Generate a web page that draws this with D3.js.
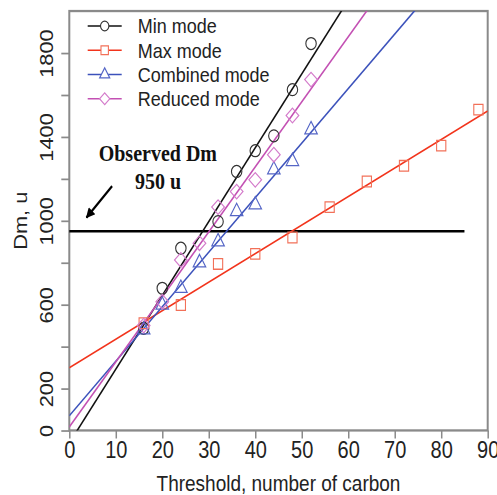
<!DOCTYPE html>
<html>
  <head>
    <meta charset="utf-8">
    <title>Dm vs threshold</title>
    <script src="https://d3js.org/d3.v7.min.js"></script>
    <style>
      body { margin: 0; background: #fff; }
      text { font-family: "Liberation Sans", Arial, sans-serif; fill: #222; }
      .serif { font-family: "Liberation Serif", "Times New Roman", serif; fill: #111; }
    </style>
  </head>
  <body>
    <svg id="chart"></svg>
    <script>
// the original figure is stretched a little vertically, so draw in a
// shorter viewBox and let the svg stretch it
var width = 497,
    height = 495,
    stretch = 1.15,
    vbHeight = height / stretch;

// data
var thresholdsA = [16, 20, 24, 32, 36, 40, 44, 48, 52];
var minMode = [487, 678, 869, 996, 1235, 1334, 1405, 1625, 1845];

var thresholdsMax = [16, 24, 32, 40, 48, 56, 64, 72, 80, 88];
var maxMode = [511, 598, 794, 842, 920, 1065, 1187, 1262, 1358, 1530];

var thresholdsB = [16, 20, 24, 28, 32, 36, 40, 44, 48, 52];
var combinedMode = [480, 598, 678, 800, 900, 1044, 1076, 1243, 1283, 1434];
var reducedMode = [500, 614, 813, 893, 1065, 1139, 1195, 1315, 1502, 1673];

// fitted lines [intercept, slope] as drawn
var minFit = [-60, 35.2];
var maxFit = [299, 13.6];
var combinedFit = [70, 26.0];
var reducedFit = [17, 31.0];

var xTicks = [0, 10, 20, 30, 40, 50, 60, 70, 80, 90];
var yTicks = [0, 200, 400, 600, 800, 1000, 1200, 1400, 1600, 1800];
var yTickLabels = [0, 200, 600, 1000, 1400, 1800];

var observedDm = 950;

var series = [
  {name: "Min mode", x: thresholdsA, y: minMode, fit: minFit, line: "#111", mark: "#333", shape: "circle"},
  {name: "Max mode", x: thresholdsMax, y: maxMode, fit: maxFit, line: "#f2341c", mark: "#f27058", shape: "square"},
  {name: "Combined mode", x: thresholdsB, y: combinedMode, fit: combinedFit, line: "#3c52bb", mark: "#5566c6", shape: "triangle"},
  {name: "Reduced mode", x: thresholdsB, y: reducedMode, fit: reducedFit, line: "#c350b3", mark: "#d47ccb", shape: "diamond"}
];

var margin = {top: 9.6, right: 9.3, bottom: vbHeight - 374.3, left: 69.3};

var svg = d3.select("#chart")
  .attr("width", width)
  .attr("height", height)
  .attr("viewBox", "0 0 " + width + " " + vbHeight)
  .attr("preserveAspectRatio", "none");

var x = d3.scaleLinear().domain([0, 90]).range([margin.left, width - margin.right]);
var y = d3.scaleLinear().domain([0, 2000]).range([vbHeight - margin.bottom, margin.top]);

svg.append("clipPath").attr("id", "plot-clip")
  .append("rect")
  .attr("x", x(0)).attr("y", y(2000))
  .attr("width", x(90) - x(0)).attr("height", y(0) - y(2000));

function symbolPath(shape, size) {
  if (shape == "circle") return d3.symbol(d3.symbolCircle, size)();
  if (shape == "square") return d3.symbol(d3.symbolSquare, size)();
  if (shape == "triangle") return d3.symbol(d3.symbolTriangle, size * 0.8)();
  return d3.symbol(d3.symbolSquare, size * 0.95)();
}
function symbolRotate(shape) {
  return shape == "diamond" ? " rotate(45)" : "";
}

// axes
var axisColor = "#8a8a8a";

var xAxis = svg.append("g")
  .attr("transform", "translate(0," + y(0) + ")")
  .call(d3.axisBottom(x).tickValues(xTicks).tickSize(7).tickPadding(3).tickFormat(d3.format("d")));
xAxis.select(".domain").remove();
xAxis.selectAll("line").attr("stroke", axisColor).attr("stroke-width", 1.5);
xAxis.selectAll("text")
  .attr("font-size", 20)
  .attr("fill", "#222")
  .attr("font-family", "Liberation Sans, Arial, sans-serif");

var yAxis = svg.append("g")
  .attr("transform", "translate(" + x(0) + ",0)")
  .call(d3.axisLeft(y).tickValues(yTicks).tickSize(8)
    .tickFormat(function(d) { return yTickLabels.indexOf(d) >= 0 ? d : ""; }));
yAxis.select(".domain").remove();
yAxis.selectAll("line").attr("stroke", axisColor).attr("stroke-width", 1.5);
yAxis.selectAll("text")
  .attr("font-size", 19)
  .attr("fill", "#222")
  .attr("font-family", "Liberation Sans, Arial, sans-serif")
  .attr("text-anchor", "middle")
  .attr("x", null).attr("dy", null)
  .attr("transform", "translate(-16,0) rotate(-90)");

// frame
svg.append("rect")
  .attr("x", x(0)).attr("y", y(2000))
  .attr("width", x(90) - x(0)).attr("height", y(0) - y(2000))
  .attr("fill", "none")
  .attr("stroke", axisColor)
  .attr("stroke-width", 2);

// axis titles
svg.append("text")
  .attr("x", (x(0) + x(90)) / 2)
  .attr("y", 427)
  .attr("text-anchor", "middle")
  .attr("font-size", 19)
  .text("Threshold, number of carbon");

svg.append("text")
  .attr("transform", "translate(26.5," + (y(0) + y(2000)) / 2 + ") rotate(-90)")
  .attr("text-anchor", "middle")
  .attr("font-size", 19)
  .text("Dm, u");

// observed line
svg.append("line")
  .attr("x1", x(0)).attr("x2", x(85))
  .attr("y1", y(observedDm)).attr("y2", y(observedDm))
  .attr("stroke", "#000")
  .attr("stroke-width", 2.2);

// fitted lines
var plot = svg.append("g").attr("clip-path", "url(#plot-clip)");

plot.selectAll("line.fit")
  .data(series)
  .enter().append("line")
  .attr("class", "fit")
  .attr("x1", x(0))
  .attr("x2", x(90))
  .attr("y1", function(d) { return y(d.fit[0]); })
  .attr("y2", function(d) { return y(d.fit[0] + d.fit[1] * 90); })
  .attr("stroke", function(d) { return d.line; })
  .attr("stroke-width", 1.5);

// markers
series.forEach(function(s) {
  plot.append("g").selectAll("path")
    .data(s.x.map(function(v, i) { return [v, s.y[i]]; }))
    .enter().append("path")
    .attr("d", symbolPath(s.shape, 85))
    .attr("transform", function(d) {
      return "translate(" + x(d[0]) + "," + y(d[1]) + ")" + symbolRotate(s.shape);
    })
    .attr("fill", "none")
    .attr("stroke", s.mark)
    .attr("stroke-width", 1.1);
});

// legend
var legend = svg.append("g").selectAll("g")
  .data(series)
  .enter().append("g")
  .attr("transform", function(d, i) { return "translate(87.7," + (22.6 + i * 21.1) + ")"; });

legend.append("line")
  .attr("x1", 0).attr("x2", 34)
  .attr("stroke", function(d) { return d.line; })
  .attr("stroke-width", 1.3);

legend.append("path")
  .attr("d", function(d) { return symbolPath(d.shape, 55); })
  .attr("transform", function(d) { return "translate(17,0)" + symbolRotate(d.shape); })
  .attr("fill", "#fff")
  .attr("stroke", function(d) { return d.mark; })
  .attr("stroke-width", 1.1);

legend.append("text")
  .attr("x", 50)
  .attr("dy", "0.36em")
  .attr("font-size", 18)
  .text(function(d) { return d.name; });

// annotation
svg.append("text")
  .attr("class", "serif")
  .attr("x", x(19.05)).attr("y", y(1287))
  .attr("text-anchor", "middle")
  .attr("font-size", 20)
  .attr("font-weight", "bold")
  .attr("stroke", "none")
  .text("Observed Dm");

svg.append("text")
  .attr("class", "serif")
  .attr("x", x(19.1)).attr("y", y(1151))
  .attr("text-anchor", "middle")
  .attr("font-size", 20)
  .attr("font-weight", "bold")
  .text("950 u");

svg.append("defs").append("marker")
  .attr("id", "head")
  .attr("viewBox", "0 0 10 10")
  .attr("refX", 9).attr("refY", 5)
  .attr("markerWidth", 5.5).attr("markerHeight", 4.5)
  .attr("markerUnits", "strokeWidth")
  .attr("orient", "auto")
  .append("path")
  .attr("d", "M0,0L10,5L0,10Z")
  .attr("fill", "#000");

svg.append("line")
  .attr("x1", x(9.2)).attr("y1", y(1165))
  .attr("x2", x(3.7)).attr("y2", y(1015))
  .attr("stroke", "#000")
  .attr("stroke-width", 2)
  .attr("marker-end", "url(#head)");
    </script>
  </body>
</html>
